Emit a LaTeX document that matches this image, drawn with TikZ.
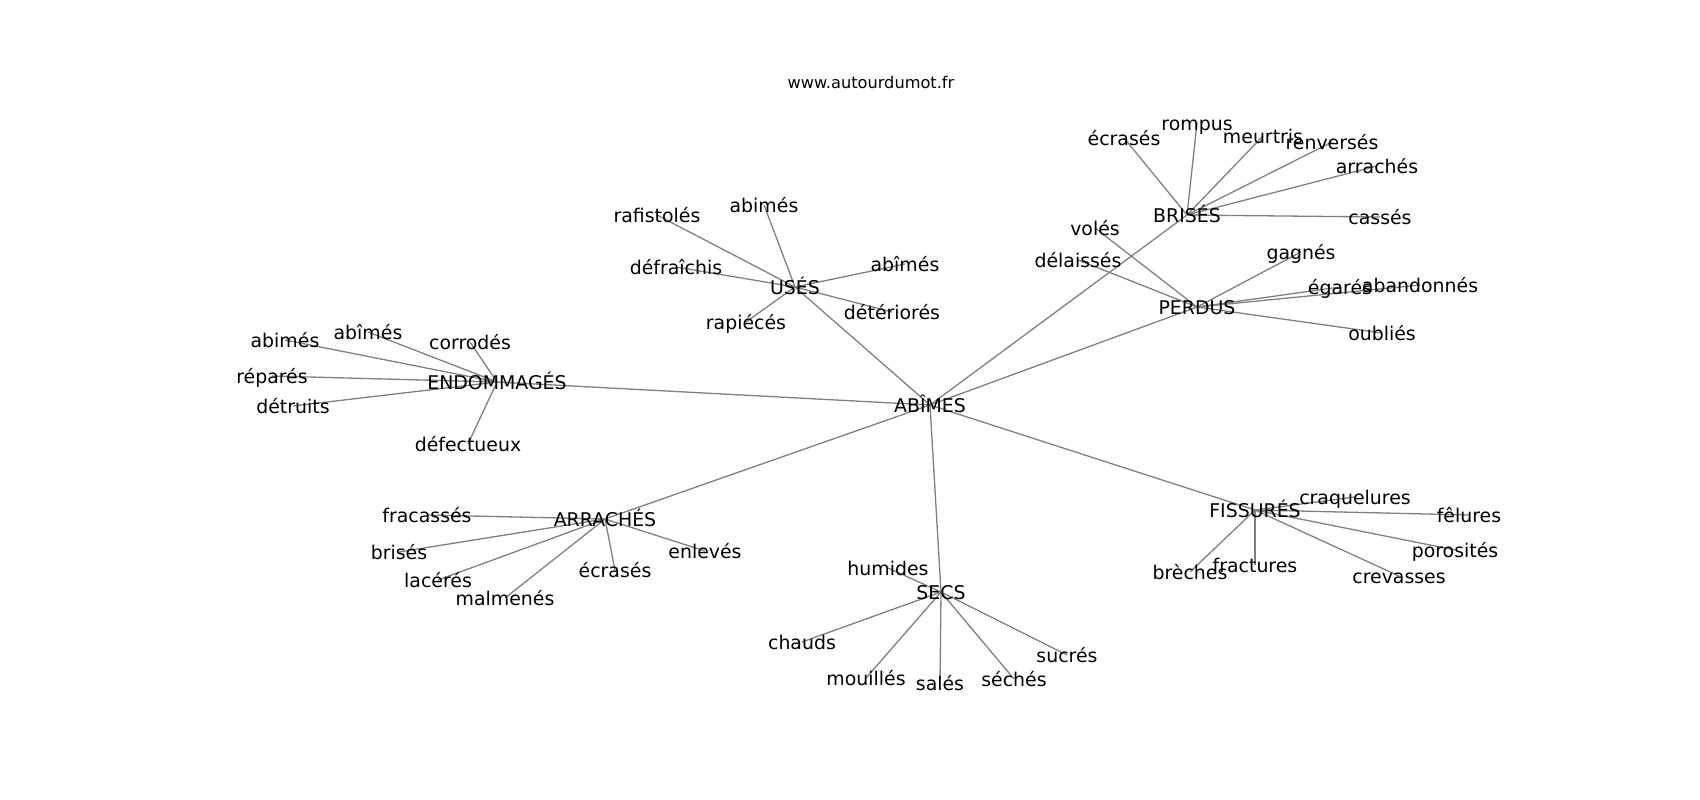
\documentclass[tikz,border=0pt]{standalone}
\usepackage{fontspec}
\setmainfont{DejaVu Sans}
\usetikzlibrary{backgrounds}

\begin{document}
\begin{tikzpicture}[x=1pt,y=-1pt,
	every node/.style={inner sep=0pt,font=\fontsize{18.9}{22}\selectfont,text height=18.4pt,text depth=4.3pt},
	site/.style={font=\fontsize{16.2}{19}\selectfont,text height=14.3pt,text depth=3.7pt},
	every edge/.style={draw,gray,line width=1.3pt}]

	\useasboundingbox (0,0) rectangle (1700,800);
	\node[site] (title) at (871,83) {www.autourdumot.fr};

	% hubs
	\node (abimes) at (930,405) {ABÎMES};
	\node (uses) at (795,287) {USÉS};
	\node (endo) at (497,382) {ENDOMMAGÉS};
	\node (arra) at (605,519) {ARRACHÉS};
	\node (secs) at (941,592) {SECS};
	\node (fiss) at (1255,510) {FISSURÉS};
	\node (perdus) at (1197,307) {PERDUS};
	\node (brises) at (1187,215) {BRISÉS};

	% leaves
	\node (u1) at (657,215) {rafistolés};
	\node (u2) at (764,205) {abimés};
	\node (u3) at (676,267) {défraîchis};
	\node (u4) at (905,264) {abîmés};
	\node (u5) at (892,312) {détériorés};
	\node (u6) at (746,322) {rapiécés};

	\node (e1) at (285,340) {abimés};
	\node (e2) at (368,332) {abîmés};
	\node (e3) at (470,342) {corrodés};
	\node (e4) at (272,376) {réparés};
	\node (e5) at (293,406) {détruits};
	\node (e6) at (468,444) {défectueux};

	\node (a1) at (427,515) {fracassés};
	\node (a2) at (399,552) {brisés};
	\node (a3) at (438,580) {lacérés};
	\node (a4) at (505,598) {malmenés};
	\node (a5) at (615,570) {écrasés};
	\node (a6) at (705,551) {enlevés};

	\node (s1) at (888,568) {humides};
	\node (s2) at (802,642) {chauds};
	\node (s3) at (866,678) {mouillés};
	\node (s4) at (940,683) {salés};
	\node (s5) at (1014,679) {séchés};
	\node (s6) at (1067,655) {sucrés};

	\node (f1) at (1355,497) {craquelures};
	\node (f2) at (1469,515) {fêlures};
	\node (f3) at (1455,550) {porosités};
	\node (f4) at (1399,576) {crevasses};
	\node (f5) at (1255,565) {fractures};
	\node (f6) at (1190,572) {brèches};

	\node (p1) at (1095,228) {volés};
	\node (p2) at (1078,260) {délaissés};
	\node (p3) at (1301,252) {gagnés};
	\node (p4) at (1340,287) {égarés};
	\node (p5) at (1420,285) {abandonnés};
	\node (p6) at (1382,333) {oubliés};

	\node (b1) at (1124,138) {écrasés};
	\node (b2) at (1197,123) {rompus};
	\node (b3) at (1263,136) {meurtris};
	\node (b4) at (1332,142) {renversés};
	\node (b5) at (1377,166) {arrachés};
	\node (b6) at (1380,217) {cassés};

	\begin{pgfonlayer}{background}
	\foreach \j in {uses,endo,arra,secs,fiss,perdus,brises}
	{
		\path (abimes.center) edge (\j.center);
	};
	\foreach \i / \n in {uses/u, endo/e, arra/a, secs/s, fiss/f, perdus/p, brises/b}
	{
		\foreach \k in {1,...,6}
		{
			\path (\i.center) edge (\n\k.center);
		};
	};
	\end{pgfonlayer}
	\end{tikzpicture}
\end{document}
